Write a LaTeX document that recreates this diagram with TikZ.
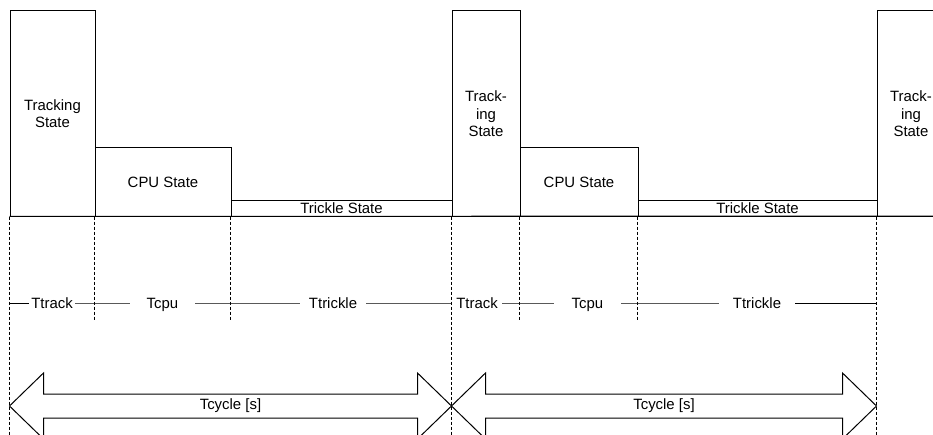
\documentclass[tikz,border=0pt]{standalone}
\usepackage{fontspec}
\setmainfont{Liberation Sans}
\usetikzlibrary{
    calc,
    fit
}

\begin{document}
\begin{tikzpicture}[
            x=0.75pt,
            y=-0.75pt,
            line width=0.75pt,
            font=\fontsize{11.2}{13.2}\selectfont,
            statebox/.style={
                draw,
                rectangle,
                inner sep=0pt
            },
            statetext/.style={
                align=center,
                inner sep=0pt,
                text depth=2pt,
                yshift=-1.2pt
            },
            timing/.style={
                dash pattern=on 2.25pt off 1.5pt
            },
            tlabel/.style={
                fill=white,
                inner ysep=1pt,
                text height=10pt,
                text depth=2pt
            },
            cyclearrow/.style={
                line join=miter
            }
            ]

            \useasboundingbox (0,0) rectangle (933,435);
            \clip (0,0) rectangle (933,435);

            % first cycle
            \node[statebox, fit={(10,11) (95,216)}] (track1) {};
            \node[statebox, fit={(95,148) (231,216)}] (cpu1) {};
            \node[statebox, fit={(231,200) (452,216)}] (trickle1) {};

            % second cycle
            \node[statebox, fit={(452,11) (520,216)}] (track2) {};
            \node[statebox, fit={(520,148) (638,216)}] (cpu2) {};
            \node[statebox, fit={(638,200) (877,216)}] (trickle2) {};

            \node[statebox, fit={(877,11) (945,216)}] (track3) {};

            \node[statetext] at (track1) {Tracking\\State};
            \node[statetext] at (cpu1) {CPU State};
            \node[statetext] at (trickle1) {Trickle State};
            \node[statetext] at (track2) {Track-\\ing\\State};
            \node[statetext] at (cpu2) {CPU State};
            \node[statetext] at (trickle2) {Trickle State};
            \node[statetext] at (track3) {Track-\\ing\\State};

            \coordinate (baseend) at (933,216);
            \draw (track1.south west) -- (baseend);

            \foreach \a/\len in {track1/219, cpu1/104, trickle1/104,
                    track2/219, cpu2/104, trickle2/104, track3/219}
                \draw[timing] (\a.south west) -- ++(0,\len);

            % durations
            \coordinate (mid) at (0,303);
            \draw (track1.south west |- mid)
            -- node[tlabel, inner xsep=1.5pt] (ttrack1) {Ttrack}
            (cpu1.south west |- mid)
            -- node[tlabel, inner xsep=12.75pt] (tcpu1) {Tcpu}
            (trickle1.south west |- mid)
            -- node[tlabel, pos=0.464, inner xsep=7pt] (ttrickle1) {Ttrickle}
            (track2.south west |- mid)
            -- node[tlabel, pos=0.375, inner xsep=3.4pt] (ttrack2) {Ttrack}
            (cpu2.south west |- mid)
            -- node[tlabel, pos=0.576, inner xsep=13pt] (tcpu2) {Tcpu}
            (trickle2.south west |- mid)
            -- node[tlabel, inner xsep=10.5pt] (ttrickle2) {Ttrickle}
            (track3.south west |- mid);

            % cycle arrows
            \coordinate (arr) at (0,406);
            \coordinate (c0) at (track1.south west |- arr);
            \coordinate (c1) at (track2.south west |- arr);
            \coordinate (c2) at (track3.south west |- arr);

            \foreach \s/\e/\n in {c0/c1/tcycle1, c1/c2/tcycle2} {
                \draw[cyclearrow] (\s) -- ++(34,-33) -- ++(0,21)
                -- ($(\e)+(-34,-12)$) -- ++(0,-21) -- (\e)
                -- ++(-34,33) -- ++(0,-21)
                -- ($(\s)+(34,12)$) -- ++(0,21) -- cycle;
                \node (\n) at ($(\s)!0.5!(\e)$) {Tcycle [s]};
            }

        \end{tikzpicture}
\end{document}
